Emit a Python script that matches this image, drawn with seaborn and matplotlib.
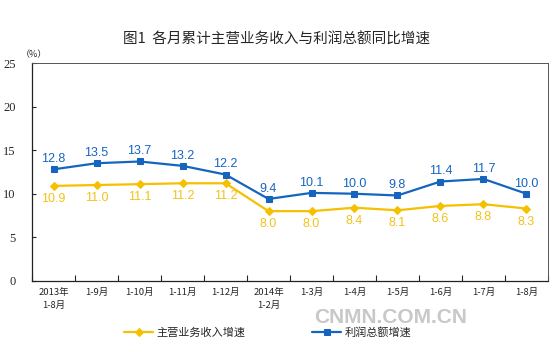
import matplotlib
matplotlib.use("Agg")
import matplotlib.pyplot as plt
import seaborn as sns
import pandas as pd
import numpy as np

# data
months = ["2013年\n1-8月", "1-9月", "1-10月", "1-11月", "1-12月", "2014年\n1-2月",
          "1-3月", "1-4月", "1-5月", "1-6月", "1-7月", "1-8月"]
revenue_growth = [10.9, 11.0, 11.1, 11.2, 11.2, 8.0, 8.0, 8.4, 8.1, 8.6, 8.8, 8.3]
profit_growth = [12.8, 13.5, 13.7, 13.2, 12.2, 9.4, 10.1, 10.0, 9.8, 11.4, 11.7, 10.0]
y_ticks = [0, 5, 10, 15, 20, 25]

sns.set_style("white")
plt.rcParams['font.family'] = ['Noto Sans CJK SC', 'DejaVu Sans']

BLUE = "#1565C0"
GOLD = "#F5C000"
GOLD_TXT = "#F2C21A"

df = pd.DataFrame({
    'pos': np.arange(len(months)),
    'revenue': revenue_growth,
    'profit': profit_growth,
})

fig = plt.figure(figsize=(5.54, 3.52), dpi=100)
ax = fig.add_axes([0.058, 0.202, 0.931, 0.619])

sns.lineplot(data=df, x='pos', y='revenue', ax=ax, color=GOLD, linewidth=1.6,
             marker='D', markersize=4.5, markeredgecolor=GOLD, label='主营业务收入增速')
sns.lineplot(data=df, x='pos', y='profit', ax=ax, color=BLUE, linewidth=1.6,
             marker='s', markersize=4.5, markeredgecolor=BLUE, label='利润总额增速')

for i, (r, p) in enumerate(zip(revenue_growth, profit_growth)):
    ax.annotate(f"{p:.1f}", (i, p), xytext=(0, 3), textcoords='offset points',
                ha='center', va='bottom', color=BLUE, fontsize=9,
                family=['Liberation Sans', 'DejaVu Sans'])
    ax.annotate(f"{r:.1f}", (i, r), xytext=(0, -5), textcoords='offset points',
                ha='center', va='top', color=GOLD_TXT, fontsize=9,
                family=['Liberation Sans', 'DejaVu Sans'])

ax.set_xlim(-0.5, len(months) - 0.5)
ax.set_ylim(0, 25)
ax.set_yticks(y_ticks)
ax.set_yticklabels([str(v) for v in y_ticks], family=['Liberation Serif'], fontsize=9)
ax.tick_params(axis='y', direction='in', length=3, width=0.8, pad=12, left=True)

ax.set_xticks(np.arange(-0.5, len(months), 1.0))
ax.set_xticklabels([])
ax.set_xticks(np.arange(len(months)), minor=True)
ax.set_xticklabels(months, minor=True, fontsize=6.8, linespacing=1.6)
ax.tick_params(axis='x', which='major', direction='in', length=4, width=0.8, bottom=True)
ax.tick_params(axis='x', which='minor', length=0, pad=5)
ax.set_xlabel('')
ax.set_ylabel('')

for side in ['left', 'bottom']:
    ax.spines[side].set_color('#222222')
    ax.spines[side].set_linewidth(0.9)
for side in ['top', 'right']:
    ax.spines[side].set_color('#555555')
    ax.spines[side].set_linewidth(0.7)

fig.text(0.5, 0.888, "图1  各月累计主营业务收入与利润总额同比增速", ha='center', va='center',
         fontsize=10.5)
fig.text(0.038, 0.846, "（%）", ha='left', va='center', fontsize=6.5)
fig.text(0.705, 0.098, "CNMN.COM.CN", ha='center', va='center', fontsize=15,
         color='#C8C8C8', family=['Liberation Sans', 'DejaVu Sans'], weight='bold')

leg = ax.legend(loc='center', bbox_to_anchor=(0.457, -0.238), ncol=2, frameon=False,
                fontsize=8, columnspacing=6, handlelength=2.6, handletextpad=0.3)

fig.savefig("out.png", dpi=100, facecolor='white')
